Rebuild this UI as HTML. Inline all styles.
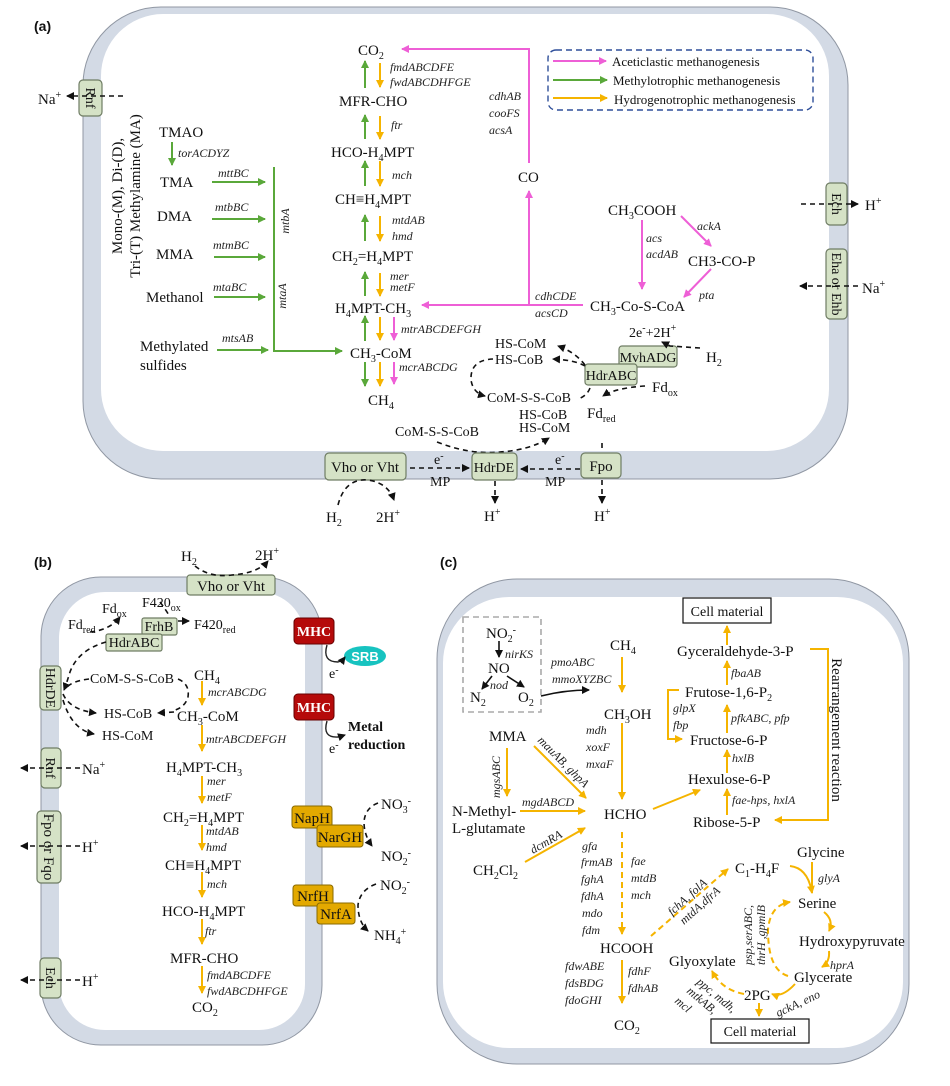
<!DOCTYPE html>
<html><head><meta charset="utf-8"><style>
body{margin:0;background:#fff}
svg{display:block}
text{font-family:"Liberation Serif",serif;fill:#111}
.m{font-size:15px}
.mb{font-size:14px}
.g{font-size:12px;font-style:italic;fill:#222}
.s{font-size:10px}
.lbl{font-family:"Liberation Sans",sans-serif;font-weight:bold;font-size:14px}
.bx{fill:#d5e2c6;stroke:#6f7d64;stroke-width:1.2}
.mem{fill:#d3dae5;stroke:#9097a3;stroke-width:1}
.gr{stroke:#5aa83a;stroke-width:2;fill:none}
.or{stroke:#f5b400;stroke-width:2;fill:none}
.pk{stroke:#ee5fd6;stroke-width:2;fill:none}
.dk{stroke:#111;stroke-width:1.6;fill:none;stroke-dasharray:5,4}
.bk{stroke:#111;stroke-width:1.6;fill:none}
.ord{stroke:#f5b400;stroke-width:2;fill:none;stroke-dasharray:6,4}
</style></head><body>
<svg width="950" height="1086" viewBox="0 0 950 1086" xmlns="http://www.w3.org/2000/svg">
<defs>
<marker id="ag" markerWidth="8" markerHeight="8" refX="7" refY="4" orient="auto" markerUnits="userSpaceOnUse"><path d="M0,0L8,4L0,8z" fill="#5aa83a"/></marker>
<marker id="ao" markerWidth="8" markerHeight="8" refX="7" refY="4" orient="auto" markerUnits="userSpaceOnUse"><path d="M0,0L8,4L0,8z" fill="#f5b400"/></marker>
<marker id="ap" markerWidth="8" markerHeight="8" refX="7" refY="4" orient="auto" markerUnits="userSpaceOnUse"><path d="M0,0L8,4L0,8z" fill="#ee5fd6"/></marker>
<marker id="ak" markerWidth="8" markerHeight="8" refX="7" refY="4" orient="auto" markerUnits="userSpaceOnUse"><path d="M0,0L8,4L0,8z" fill="#111"/></marker>
</defs>
<rect width="950" height="1086" fill="#fff"/>

<!-- ============ PANEL A ============ -->
<text x="34" y="31" class="lbl">(a)</text>
<rect x="83" y="7" width="765" height="472" rx="78" class="mem"/>
<rect x="101" y="14" width="728" height="437" rx="62" fill="#fff"/>

<!-- legend -->
<rect x="548" y="50" width="265" height="60" rx="8" fill="none" stroke="#2f4f9a" stroke-width="1.4" stroke-dasharray="6,4"/>
<line x1="553" y1="61" x2="606" y2="61" class="pk" marker-end="url(#ap)"/>
<line x1="553" y1="80" x2="607" y2="80" class="gr" marker-end="url(#ag)"/>
<line x1="553" y1="98" x2="607" y2="98" class="or" marker-end="url(#ao)"/>
<text x="612" y="66" style="font-size:13px">Aceticlastic methanogenesis</text>
<text x="613" y="85" style="font-size:13px">Methylotrophic methanogenesis</text>
<text x="614" y="104" style="font-size:13px">Hydrogenotrophic methanogenesis</text>

<!-- Rnf -->
<rect x="79" y="80" width="23" height="36" rx="4" class="bx"/>
<text transform="translate(86,98) rotate(90)" class="mb" text-anchor="middle">Rnf</text>
<line x1="123" y1="96" x2="67" y2="96" class="dk" marker-end="url(#ak)"/>
<text x="38" y="104" class="m">Na<tspan class="s" dy="-6">+</tspan></text>

<!-- vertical MA text -->
<text transform="translate(122,196) rotate(-90)" class="m" text-anchor="middle">Mono-(M), Di-(D),</text>
<text transform="translate(140,196) rotate(-90)" class="m" text-anchor="middle">Tri-(T) Methylamine (MA)</text>

<text x="159" y="137" class="m">TMAO</text>
<line x1="172" y1="142" x2="172" y2="165" class="gr" marker-end="url(#ag)"/>
<text x="178" y="157" class="g">torACDYZ</text>
<text x="160" y="187" class="m">TMA</text>
<text x="218" y="177" class="g">mttBC</text>
<line x1="212" y1="182" x2="265" y2="182" class="gr" marker-end="url(#ag)"/>
<text x="157" y="221" class="m">DMA</text>
<text x="215" y="211" class="g">mtbBC</text>
<line x1="212" y1="219" x2="265" y2="219" class="gr" marker-end="url(#ag)"/>
<text x="156" y="259" class="m">MMA</text>
<text x="213" y="249" class="g">mtmBC</text>
<line x1="214" y1="257" x2="265" y2="257" class="gr" marker-end="url(#ag)"/>
<text x="146" y="302" class="m">Methanol</text>
<text x="213" y="291" class="g">mtaBC</text>
<line x1="214" y1="297" x2="265" y2="297" class="gr" marker-end="url(#ag)"/>
<text x="140" y="351" class="m">Methylated</text>
<text x="140" y="370" class="m">sulfides</text>
<text x="222" y="342" class="g">mtsAB</text>
<line x1="217" y1="350" x2="268" y2="350" class="gr" marker-end="url(#ag)"/>
<polyline points="274,167 274,351 342,351" class="gr" marker-end="url(#ag)"/>
<text transform="translate(289,221) rotate(-90)" class="g" text-anchor="middle">mtbA</text>
<text transform="translate(286,296) rotate(-90)" class="g" text-anchor="middle">mtaA</text>

<!-- central column -->
<text x="358" y="55" class="m">CO<tspan class="s" dy="4">2</tspan></text>
<text x="339" y="106" class="m">MFR-CHO</text>
<text x="331" y="157" class="m">HCO-H<tspan class="s" dy="4">4</tspan><tspan dy="-4">MPT</tspan></text>
<text x="335" y="204" class="m">CH≡H<tspan class="s" dy="4">4</tspan><tspan dy="-4">MPT</tspan></text>
<text x="332" y="261" class="m">CH<tspan class="s" dy="4">2</tspan><tspan dy="-4">=H</tspan><tspan class="s" dy="4">4</tspan><tspan dy="-4">MPT</tspan></text>
<text x="335" y="313" class="m">H<tspan class="s" dy="4">4</tspan><tspan dy="-4">MPT-CH</tspan><tspan class="s" dy="4">3</tspan></text>
<text x="350" y="358" class="m">CH<tspan class="s" dy="4">3</tspan><tspan dy="-4">-CoM</tspan></text>
<text x="368" y="405" class="m">CH<tspan class="s" dy="4">4</tspan></text>

<g>
<line x1="365" y1="88" x2="365" y2="61" class="gr" marker-end="url(#ag)"/>
<line x1="380" y1="63" x2="380" y2="87" class="or" marker-end="url(#ao)"/>
<line x1="365" y1="139" x2="365" y2="115" class="gr" marker-end="url(#ag)"/>
<line x1="380" y1="116" x2="380" y2="139" class="or" marker-end="url(#ao)"/>
<line x1="365" y1="186" x2="365" y2="161" class="gr" marker-end="url(#ag)"/>
<line x1="380" y1="161" x2="380" y2="186" class="or" marker-end="url(#ao)"/>
<line x1="365" y1="241" x2="365" y2="215" class="gr" marker-end="url(#ag)"/>
<line x1="380" y1="216" x2="380" y2="241" class="or" marker-end="url(#ao)"/>
<line x1="365" y1="296" x2="365" y2="272" class="gr" marker-end="url(#ag)"/>
<line x1="380" y1="273" x2="380" y2="296" class="or" marker-end="url(#ao)"/>
<line x1="365" y1="341" x2="365" y2="316" class="gr" marker-end="url(#ag)"/>
<line x1="380" y1="317" x2="380" y2="340" class="or" marker-end="url(#ao)"/>
<line x1="394" y1="317" x2="394" y2="340" class="pk" marker-end="url(#ap)"/>
<line x1="365" y1="362" x2="365" y2="386" class="gr" marker-end="url(#ag)"/>
<line x1="380" y1="362" x2="380" y2="386" class="or" marker-end="url(#ao)"/>
<line x1="394" y1="362" x2="394" y2="384" class="pk" marker-end="url(#ap)"/>
</g>
<text x="390" y="71" class="g">fmdABCDFE</text>
<text x="390" y="86" class="g">fwdABCDHFGE</text>
<text x="391" y="129" class="g">ftr</text>
<text x="392" y="179" class="g">mch</text>
<text x="392" y="224" class="g">mtdAB</text>
<text x="392" y="240" class="g">hmd</text>
<text x="390" y="280" class="g">mer</text>
<text x="390" y="291" class="g">metF</text>
<text x="401" y="333" class="g">mtrABCDEFGH</text>
<text x="399" y="371" class="g">mcrABCDG</text>

<!-- pink CO path -->
<polyline points="529,163 529,49 402,49" class="pk" marker-end="url(#ap)"/>
<text x="518" y="182" class="m">CO</text>
<line x1="529" y1="305" x2="529" y2="191" class="pk" marker-end="url(#ap)"/>
<line x1="583" y1="305" x2="422" y2="305" class="pk" marker-end="url(#ap)"/>
<text x="489" y="100" class="g">cdhAB</text>
<text x="489" y="117" class="g">cooFS</text>
<text x="489" y="134" class="g">acsA</text>
<text x="535" y="300" class="g">cdhCDE</text>
<text x="535" y="317" class="g">acsCD</text>

<text x="608" y="215" class="m">CH<tspan class="s" dy="4">3</tspan><tspan dy="-4">COOH</tspan></text>
<text x="688" y="266" class="m">CH3-CO-P</text>
<text x="590" y="311" class="m">CH<tspan class="s" dy="4">3</tspan><tspan dy="-4">-Co-S-CoA</tspan></text>
<line x1="642" y1="220" x2="642" y2="289" class="pk" marker-end="url(#ap)"/>
<line x1="681" y1="216" x2="711" y2="246" class="pk" marker-end="url(#ap)"/>
<line x1="711" y1="269" x2="684" y2="297" class="pk" marker-end="url(#ap)"/>
<text x="646" y="242" class="g">acs</text>
<text x="646" y="258" class="g">acdAB</text>
<text x="697" y="230" class="g">ackA</text>
<text x="699" y="299" class="g">pta</text>

<!-- Ech / Eha -->
<rect x="826" y="183" width="21" height="42" rx="4" class="bx"/>
<text transform="translate(832,204) rotate(90)" class="mb" text-anchor="middle">Ech</text>
<line x1="801" y1="204" x2="858" y2="204" class="dk" marker-end="url(#ak)"/>
<text x="865" y="210" class="m">H<tspan class="s" dy="-6">+</tspan></text>
<rect x="826" y="249" width="21" height="70" rx="4" class="bx"/>
<text transform="translate(832,284) rotate(90)" class="mb" text-anchor="middle">Eha or Ehb</text>
<line x1="858" y1="286" x2="800" y2="286" class="dk" marker-end="url(#ak)"/>
<text x="862" y="293" class="m">Na<tspan class="s" dy="-6">+</tspan></text>

<!-- electron stuff -->
<text x="629" y="337" class="mb">2e<tspan class="s" dy="-6">-</tspan><tspan dy="6">+2H</tspan><tspan class="s" dy="-6">+</tspan></text>
<rect x="619" y="346" width="58" height="21" rx="3" class="bx"/>
<text x="648" y="362" class="mb" text-anchor="middle">MvhADG</text>
<rect x="585" y="364" width="52" height="21" rx="3" class="bx"/>
<text x="611" y="380" class="mb" text-anchor="middle">HdrABC</text>
<text x="706" y="362" class="m">H<tspan class="s" dy="4">2</tspan></text>
<path d="M700,348 L670,346 L662,342" class="dk" marker-end="url(#ak)"/>
<text x="652" y="392" class="m">Fd<tspan class="s" dy="4">ox</tspan></text>
<path d="M645,386 Q615,388 603,396" class="dk" marker-end="url(#ak)"/>
<text x="587" y="418" class="m">Fd<tspan class="s" dy="4">red</tspan></text>
<text x="495" y="348" class="mb">HS-CoM</text>
<text x="495" y="364" class="mb">HS-CoB</text>
<path d="M585,365 Q575,352 558,346" class="dk" marker-end="url(#ak)"/>
<path d="M585,366 Q575,360 553,359" class="dk" marker-end="url(#ak)"/>
<text x="487" y="402" class="mb">CoM-S-S-CoB</text>
<path d="M590,388 Q587,396 578,399" class="dk"/>
<path d="M493,359 Q470,360 471,380 Q473,393 485,396" class="dk" marker-end="url(#ak)"/>
<text x="519" y="419" class="mb">HS-CoB</text>
<text x="519" y="432" class="mb">HS-CoM</text>
<text x="395" y="436" class="mb">CoM-S-S-CoB</text>
<path d="M437,442 Q470,455 500,452 Q530,450 549,438" class="dk" marker-end="url(#ak)"/>

<!-- bottom membrane -->
<rect x="325" y="453" width="81" height="27" rx="4" class="bx"/>
<text x="365" y="472" class="m" text-anchor="middle">Vho or Vht</text>
<rect x="472" y="453" width="45" height="27" rx="4" class="bx"/>
<text x="494" y="472" class="mb" text-anchor="middle">HdrDE</text>
<rect x="581" y="453" width="40" height="25" rx="4" class="bx"/>
<text x="601" y="471" class="m" text-anchor="middle">Fpo</text>
<line x1="410" y1="468" x2="469" y2="468" class="dk" marker-end="url(#ak)"/>
<text x="434" y="464" class="mb">e<tspan class="s" dy="-5">-</tspan></text>
<text x="430" y="486" class="mb">MP</text>
<line x1="580" y1="469" x2="521" y2="469" class="dk" marker-end="url(#ak)"/>
<text x="555" y="464" class="mb">e<tspan class="s" dy="-5">-</tspan></text>
<text x="545" y="486" class="mb">MP</text>
<line x1="602" y1="443" x2="602" y2="452" class="dk"/>
<line x1="602" y1="480" x2="602" y2="503" class="dk" marker-end="url(#ak)"/>
<line x1="495" y1="481" x2="495" y2="503" class="dk" marker-end="url(#ak)"/>
<text x="484" y="521" class="m">H<tspan class="s" dy="-6">+</tspan></text>
<text x="594" y="521" class="m">H<tspan class="s" dy="-6">+</tspan></text>
<path d="M338,505 Q345,478 368,480 Q388,483 394,500" class="dk" marker-end="url(#ak)"/>
<text x="326" y="522" class="m">H<tspan class="s" dy="4">2</tspan></text>
<text x="376" y="522" class="m">2H<tspan class="s" dy="-6">+</tspan></text>

<!-- ============ PANEL B ============ -->
<text x="34" y="567" class="lbl">(b)</text>
<rect x="41" y="577" width="281" height="468" rx="60" class="mem"/>
<rect x="59" y="592" width="246" height="438" rx="46" fill="#fff"/>

<rect x="187" y="575" width="88" height="20" rx="3" class="bx"/>
<text x="231" y="591" class="m" text-anchor="middle">Vho or Vht</text>
<text x="181" y="561" class="m">H<tspan class="s" dy="4">2</tspan></text>
<text x="255" y="560" class="m">2H<tspan class="s" dy="-6">+</tspan></text>
<path d="M195,566 Q210,578 232,575 Q258,573 268,561" class="dk" marker-end="url(#ak)"/>

<rect x="142" y="618" width="35" height="17" rx="2" class="bx"/>
<text x="159" y="631" class="mb" text-anchor="middle">FrhB</text>
<rect x="106" y="634" width="56" height="17" rx="2" class="bx"/>
<text x="134" y="647" class="mb" text-anchor="middle">HdrABC</text>
<text x="102" y="613" class="mb">Fd<tspan class="s" dy="4">ox</tspan></text>
<text x="142" y="607" class="mb">F420<tspan class="s" dy="4">ox</tspan></text>
<text x="194" y="629" class="mb">F420<tspan class="s" dy="4">red</tspan></text>
<text x="68" y="629" class="mb">Fd<tspan class="s" dy="4">red</tspan></text>
<path d="M90,632 Q110,630 120,617" class="dk" marker-end="url(#ak)"/>
<path d="M160,602 Q166,610 170,617" class="dk"/>
<line x1="178" y1="621" x2="189" y2="621" class="dk" marker-end="url(#ak)"/>
<path d="M106,642 Q78,650 70,672 Q66,685 64,690" class="dk" marker-end="url(#ak)"/>

<rect x="40" y="666" width="21" height="44" rx="4" class="bx"/>
<text transform="translate(46,688) rotate(90)" class="mb" text-anchor="middle">HdrDE</text>
<text x="90" y="683" class="mb">CoM-S-S-CoB</text>
<path d="M89,679 Q72,681 66,688" class="dk"/>
<path d="M63,694 Q70,710 96,713" class="dk" marker-end="url(#ak)"/>
<path d="M63,700 Q72,730 94,734" class="dk" marker-end="url(#ak)"/>
<text x="104" y="718" class="mb">HS-CoB</text>
<text x="102" y="740" class="mb">HS-CoM</text>
<path d="M178,679 Q190,684 188,697 Q185,708 172,711" class="dk"/>
<line x1="174" y1="712" x2="158" y2="713" class="dk" marker-end="url(#ak)"/>

<text x="194" y="680" class="m">CH<tspan class="s" dy="4">4</tspan></text>
<text x="177" y="721" class="m">CH<tspan class="s" dy="4">3</tspan><tspan dy="-4">-CoM</tspan></text>
<text x="166" y="772" class="m">H<tspan class="s" dy="4">4</tspan><tspan dy="-4">MPT-CH</tspan><tspan class="s" dy="4">3</tspan></text>
<text x="163" y="822" class="m">CH<tspan class="s" dy="4">2</tspan><tspan dy="-4">=H</tspan><tspan class="s" dy="4">4</tspan><tspan dy="-4">MPT</tspan></text>
<text x="165" y="870" class="m">CH≡H<tspan class="s" dy="4">4</tspan><tspan dy="-4">MPT</tspan></text>
<text x="162" y="916" class="m">HCO-H<tspan class="s" dy="4">4</tspan><tspan dy="-4">MPT</tspan></text>
<text x="170" y="963" class="m">MFR-CHO</text>
<text x="192" y="1012" class="m">CO<tspan class="s" dy="4">2</tspan></text>
<line x1="202" y1="681" x2="202" y2="705" class="or" marker-end="url(#ao)"/>
<line x1="202" y1="725" x2="202" y2="751" class="or" marker-end="url(#ao)"/>
<line x1="202" y1="776" x2="202" y2="803" class="or" marker-end="url(#ao)"/>
<line x1="202" y1="825" x2="202" y2="850" class="or" marker-end="url(#ao)"/>
<line x1="202" y1="872" x2="202" y2="897" class="or" marker-end="url(#ao)"/>
<line x1="202" y1="919" x2="202" y2="944" class="or" marker-end="url(#ao)"/>
<line x1="202" y1="966" x2="202" y2="993" class="or" marker-end="url(#ao)"/>
<text x="208" y="696" class="g">mcrABCDG</text>
<text x="206" y="743" class="g">mtrABCDEFGH</text>
<text x="207" y="785" class="g">mer</text>
<text x="207" y="801" class="g">metF</text>
<text x="206" y="835" class="g">mtdAB</text>
<text x="206" y="851" class="g">hmd</text>
<text x="207" y="888" class="g">mch</text>
<text x="205" y="935" class="g">ftr</text>
<text x="207" y="979" class="g">fmdABCDFE</text>
<text x="207" y="995" class="g">fwdABCDHFGE</text>

<rect x="41" y="748" width="20" height="40" rx="4" class="bx"/>
<text transform="translate(46,768) rotate(90)" class="mb" text-anchor="middle">Rnf</text>
<line x1="80" y1="768" x2="21" y2="768" class="dk" marker-end="url(#ak)"/>
<text x="82" y="774" class="m">Na<tspan class="s" dy="-6">+</tspan></text>
<rect x="37" y="811" width="24" height="72" rx="4" class="bx"/>
<text transform="translate(44,847) rotate(90)" class="m" text-anchor="middle">Fpo or Fqo</text>
<line x1="80" y1="846" x2="21" y2="846" class="dk" marker-end="url(#ak)"/>
<text x="82" y="852" class="m">H<tspan class="s" dy="-6">+</tspan></text>
<rect x="40" y="958" width="21" height="40" rx="4" class="bx"/>
<text transform="translate(46,978) rotate(90)" class="mb" text-anchor="middle">Ech</text>
<line x1="80" y1="980" x2="21" y2="980" class="dk" marker-end="url(#ak)"/>
<text x="82" y="986" class="m">H<tspan class="s" dy="-6">+</tspan></text>

<!-- MHC -->
<rect x="294" y="618" width="40" height="26" rx="4" fill="#b50a0a" stroke="#600" stroke-width="1"/>
<text x="314" y="636" text-anchor="middle" style="font-size:14px;font-weight:bold;fill:#fff">MHC</text>
<ellipse cx="365" cy="656" rx="21" ry="10" fill="#17c3c0"/>
<text x="365" y="661" text-anchor="middle" style="font-size:13px;font-weight:bold;fill:#fff;font-family:'Liberation Sans',sans-serif">SRB</text>
<path d="M327,645 Q322,662 338,662 Q342,661 345,657" stroke="#222" stroke-width="1.4" fill="none" marker-end="url(#ak)"/>
<text x="329" y="678" class="mb">e<tspan class="s" dy="-5">-</tspan></text>
<rect x="294" y="694" width="40" height="26" rx="4" fill="#b50a0a" stroke="#600" stroke-width="1"/>
<text x="314" y="712" text-anchor="middle" style="font-size:14px;font-weight:bold;fill:#fff">MHC</text>
<path d="M327,721 Q322,738 338,737 Q342,736 345,735" stroke="#222" stroke-width="1.4" fill="none" marker-end="url(#ak)"/>
<text x="329" y="753" class="mb">e<tspan class="s" dy="-5">-</tspan></text>
<text x="348" y="731" style="font-size:14px;font-weight:bold">Metal</text>
<text x="348" y="749" style="font-size:14px;font-weight:bold">reduction</text>

<rect x="292" y="806" width="40" height="22" rx="3" fill="#e3a900" stroke="#8a6a00" stroke-width="1"/>
<text x="312" y="823" text-anchor="middle" class="m">NapH</text>
<rect x="317" y="825" width="46" height="22" rx="3" fill="#e3a900" stroke="#8a6a00" stroke-width="1"/>
<text x="340" y="842" text-anchor="middle" class="m">NarGH</text>
<path d="M378,803 Q365,808 364,822 Q364,835 372,846" class="dk" marker-end="url(#ak)"/>
<text x="381" y="809" class="m">NO<tspan class="s" dy="4">3</tspan><tspan class="s" dy="-9">-</tspan></text>
<text x="381" y="861" class="m">NO<tspan class="s" dy="4">2</tspan><tspan class="s" dy="-9">-</tspan></text>
<rect x="293" y="885" width="40" height="21" rx="3" fill="#e3a900" stroke="#8a6a00" stroke-width="1"/>
<text x="313" y="901" text-anchor="middle" class="m">NrfH</text>
<rect x="317" y="903" width="38" height="21" rx="3" fill="#e3a900" stroke="#8a6a00" stroke-width="1"/>
<text x="336" y="919" text-anchor="middle" class="m">NrfA</text>
<path d="M376,884 Q360,890 358,905 Q358,922 368,931" class="dk" marker-end="url(#ak)"/>
<text x="380" y="890" class="m">NO<tspan class="s" dy="4">2</tspan><tspan class="s" dy="-9">-</tspan></text>
<text x="374" y="940" class="m">NH<tspan class="s" dy="4">4</tspan><tspan class="s" dy="-9">+</tspan></text>

<!-- ============ PANEL C ============ -->
<text x="440" y="567" class="lbl">(c)</text>
<rect x="437" y="579" width="472" height="485" rx="80" class="mem"/>
<rect x="443" y="597" width="460" height="451" rx="66" fill="#fff"/>

<rect x="463" y="617" width="78" height="95" fill="none" stroke="#aaa" stroke-width="1.6" stroke-dasharray="6,4"/>
<text x="486" y="638" class="m">NO<tspan class="s" dy="4">2</tspan><tspan class="s" dy="-9">-</tspan></text>
<line x1="499" y1="641" x2="499" y2="657" class="bk" marker-end="url(#ak)"/>
<text x="505" y="658" class="g">nirKS</text>
<text x="488" y="673" class="m">NO</text>
<line x1="492" y1="676" x2="482" y2="689" class="bk" marker-end="url(#ak)"/>
<line x1="507" y1="676" x2="524" y2="687" class="bk" marker-end="url(#ak)"/>
<text x="490" y="689" class="g">nod</text>
<text x="470" y="702" class="m">N<tspan class="s" dy="4">2</tspan></text>
<text x="518" y="702" class="m">O<tspan class="s" dy="4">2</tspan></text>
<path d="M541,696 Q565,690 589,690" class="bk" marker-end="url(#ak)"/>

<text x="610" y="650" class="m">CH<tspan class="s" dy="4">4</tspan></text>
<text x="551" y="666" class="g">pmoABC</text>
<text x="552" y="683" class="g">mmoXYZBC</text>
<line x1="622" y1="657" x2="622" y2="692" class="or" marker-end="url(#ao)"/>
<text x="604" y="719" class="m">CH<tspan class="s" dy="4">3</tspan><tspan dy="-4">OH</tspan></text>
<line x1="622" y1="723" x2="622" y2="799" class="or" marker-end="url(#ao)"/>
<text x="586" y="734" class="g">mdh</text>
<text x="586" y="751" class="g">xoxF</text>
<text x="586" y="768" class="g">mxaF</text>
<text x="604" y="819" class="m">HCHO</text>

<text x="489" y="741" class="m">MMA</text>
<line x1="507" y1="748" x2="507" y2="796" class="or" marker-end="url(#ao)"/>
<text transform="translate(500,777) rotate(-90)" class="g" text-anchor="middle">mgsABC</text>
<text x="452" y="816" class="m">N-Methyl-</text>
<text x="452" y="833" class="m">L-glutamate</text>
<line x1="520" y1="811" x2="585" y2="811" class="or" marker-end="url(#ao)"/>
<text x="522" y="806" class="g">mgdABCD</text>
<line x1="534" y1="746" x2="586" y2="798" class="or" marker-end="url(#ao)"/>
<text transform="translate(537,741) rotate(45)" class="g">mauAB, ghpA</text>
<text x="473" y="875" class="m">CH<tspan class="s" dy="4">2</tspan><tspan dy="-4">Cl</tspan><tspan class="s" dy="4">2</tspan></text>
<line x1="525" y1="862" x2="585" y2="828" class="or" marker-end="url(#ao)"/>
<text transform="translate(533,854) rotate(-30)" class="g">dcmRA</text>

<line x1="622" y1="832" x2="622" y2="934" class="ord" marker-end="url(#ao)"/>
<text x="582" y="850" class="g">gfa</text>
<text x="581" y="866" class="g">frmAB</text>
<text x="581" y="883" class="g">fghA</text>
<text x="581" y="900" class="g">fdhA</text>
<text x="582" y="917" class="g">mdo</text>
<text x="582" y="934" class="g">fdm</text>
<text x="631" y="865" class="g">fae</text>
<text x="631" y="882" class="g">mtdB</text>
<text x="631" y="899" class="g">mch</text>
<text x="600" y="953" class="m">HCOOH</text>
<line x1="622" y1="960" x2="622" y2="1003" class="or" marker-end="url(#ao)"/>
<text x="565" y="970" class="g">fdwABE</text>
<text x="565" y="987" class="g">fdsBDG</text>
<text x="565" y="1004" class="g">fdoGHI</text>
<text x="628" y="975" class="g">fdhF</text>
<text x="628" y="992" class="g">fdhAB</text>
<text x="614" y="1030" class="m">CO<tspan class="s" dy="4">2</tspan></text>
<line x1="651" y1="936" x2="728" y2="869" class="ord" marker-end="url(#ao)"/>
<text transform="translate(672,916) rotate(-42)" class="g">fchA, folA</text>
<text transform="translate(684,925) rotate(-42)" class="g">mtdA,dfrA</text>

<!-- right top column -->
<rect x="683" y="598" width="88" height="25" fill="#fff" stroke="#111" stroke-width="1.2"/>
<text x="727" y="616" class="mb" text-anchor="middle">Cell material</text>
<line x1="727" y1="645" x2="727" y2="626" class="or" marker-end="url(#ao)"/>
<text x="677" y="656" class="m">Gyceraldehyde-3-P</text>
<line x1="727" y1="685" x2="727" y2="661" class="or" marker-end="url(#ao)"/>
<text x="731" y="677" class="g">fbaAB</text>
<text x="685" y="697" class="m">Frutose-1,6-P<tspan class="s" dy="4">2</tspan></text>
<line x1="727" y1="733" x2="727" y2="705" class="or" marker-end="url(#ao)"/>
<text x="731" y="722" class="g">pfkABC, pfp</text>
<polyline points="679,690 668,690 668,739 682,739" class="or" marker-end="url(#ao)"/>
<text x="673" y="712" class="g">glpX</text>
<text x="673" y="729" class="g">fbp</text>
<text x="690" y="745" class="m">Fructose-6-P</text>
<line x1="727" y1="773" x2="727" y2="750" class="or" marker-end="url(#ao)"/>
<text x="732" y="762" class="g">hxlB</text>
<text x="688" y="784" class="m">Hexulose-6-P</text>
<line x1="727" y1="815" x2="727" y2="789" class="or" marker-end="url(#ao)"/>
<text x="732" y="804" class="g">fae-hps, hxlA</text>
<text x="693" y="827" class="m">Ribose-5-P</text>
<line x1="653" y1="809" x2="700" y2="790" class="or" marker-end="url(#ao)"/>
<polyline points="810,649 828,649 828,820 775,820" class="or" marker-end="url(#ao)"/>
<text transform="translate(832,730) rotate(90)" class="m" text-anchor="middle">Rearrangement reaction</text>

<!-- serine cycle -->
<text x="797" y="857" class="m">Glycine</text>
<text x="735" y="873" class="m">C<tspan class="s" dy="4">1</tspan><tspan dy="-4">-H</tspan><tspan class="s" dy="4">4</tspan><tspan dy="-4">F</tspan></text>
<path d="M790,866 Q808,868 812,893" class="or" marker-end="url(#ao)"/>
<line x1="812" y1="862" x2="812" y2="893" class="or"/>
<text x="818" y="882" class="g">glyA</text>
<text x="798" y="908" class="m">Serine</text>
<path d="M824,912 Q834,920 829,931" class="or" marker-end="url(#ao)"/>
<text x="799" y="946" class="m">Hydroxypyruvate</text>
<path d="M829,951 Q830,962 822,967" class="or" marker-end="url(#ao)"/>
<text x="830" y="969" class="g">hprA</text>
<text x="794" y="982" class="m">Glycerate</text>
<path d="M795,984 Q782,998 772,994" class="or" marker-end="url(#ao)"/>
<text x="744" y="1000" class="m">2PG</text>
<line x1="759" y1="1003" x2="759" y2="1016" class="or" marker-end="url(#ao)"/>
<path d="M788,976 Q768,970 768,930 Q770,905 790,902" class="ord" marker-end="url(#ao)"/>
<text transform="translate(752,935) rotate(-90)" class="g" text-anchor="middle">psp,serABC,</text>
<text transform="translate(765,935) rotate(-90)" class="g" text-anchor="middle">thrH ,gpmlB</text>
<text x="669" y="966" class="m">Glyoxylate</text>
<path d="M744,994 Q722,990 712,971" class="ord" marker-end="url(#ao)"/>
<text transform="translate(696,983) rotate(40)" class="g">ppc, mdh,</text>
<text transform="translate(686,992) rotate(40)" class="g">mtkAB,</text>
<text transform="translate(674,1002) rotate(40)" class="g">mcl</text>
<text transform="translate(778,1017) rotate(-25)" class="g">gckA, eno</text>
<rect x="711" y="1019" width="98" height="24" fill="#fff" stroke="#111" stroke-width="1.2"/>
<text x="760" y="1036" class="mb" text-anchor="middle">Cell material</text>
</svg>
</body></html>
